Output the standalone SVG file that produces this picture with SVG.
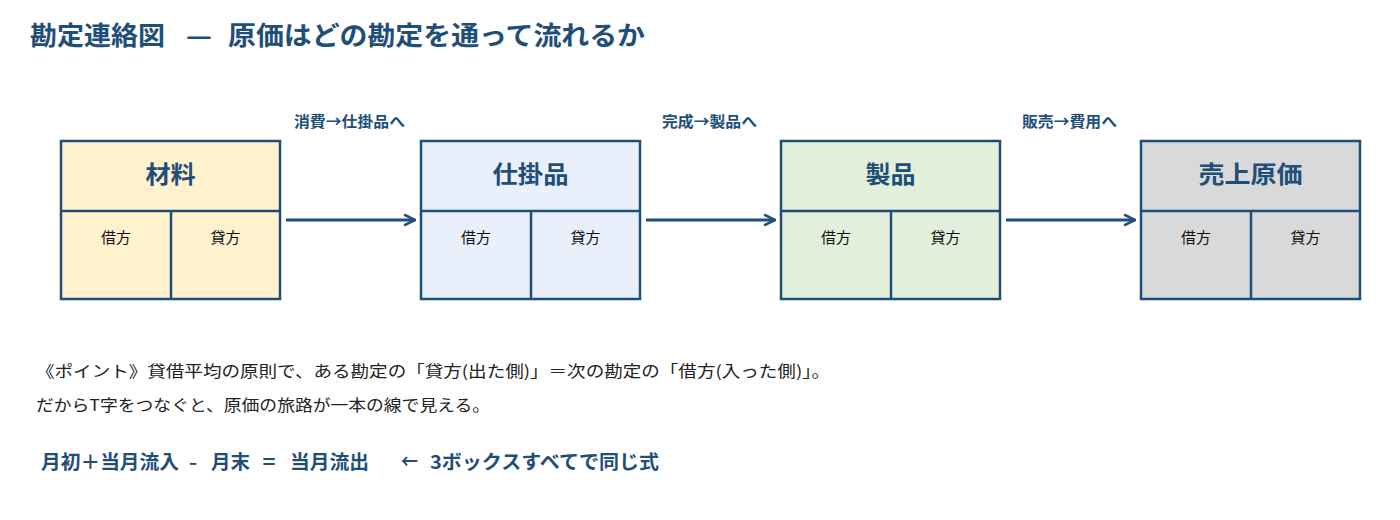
<svg xmlns="http://www.w3.org/2000/svg" width="1400" height="520" viewBox="0 0 1400 520">
<style>
text{font-family:"Noto Sans CJK JP","Noto Sans",sans-serif}
.title{font-size:26px;font-weight:bold;fill:#1f4e79}
.box{stroke:#1f4e79;stroke-width:2.5}
.ln{stroke:#1f4e79;stroke-width:2.5;fill:none}
.hd{font-size:24px;font-weight:bold;fill:#1f4e79;text-anchor:middle}
.sub{font-size:15px;fill:#111;text-anchor:middle}
.lbl{font-size:15px;font-weight:bold;fill:#1f4e79;text-anchor:middle}
.note{font-size:16px;fill:#222}
.f{font-size:19px;font-weight:bold;fill:#1f4e79}
.arr{stroke:#1f4e79;stroke-width:3;fill:none}
</style>
<defs>
<marker id="ah" viewBox="0 0 10 10" refX="9" refY="5" markerWidth="4.5" markerHeight="4.5" orient="auto" markerUnits="strokeWidth">
<path d="M1,1 L9,5 L1,9" fill="none" stroke="#1f4e79" stroke-width="2"/>
</marker>
</defs>
<rect width="1400" height="520" fill="#ffffff"/>
<g id="title">
<text class="title" x="30" y="45" textLength="135" lengthAdjust="spacingAndGlyphs">勘定連絡図</text>
<text class="title" x="186" y="45" textLength="26" lengthAdjust="spacingAndGlyphs" font-weight="normal">—</text>
<text class="title" x="228" y="45" textLength="417" lengthAdjust="spacingAndGlyphs">原価はどの勘定を通って流れるか</text>
</g>

<g id="node-zairyo">
<rect class="box" x="61" y="141" width="219" height="158" fill="#fff2cc"/>
<line class="ln" x1="61" y1="211" x2="280" y2="211"/>
<line class="ln" x1="171" y1="211" x2="171" y2="299"/>
<text class="hd" x="170.5" y="183" textLength="50" lengthAdjust="spacingAndGlyphs">材料</text>
<text class="sub" x="116" y="243" textLength="30" lengthAdjust="spacingAndGlyphs">借方</text>
<text class="sub" x="225.5" y="243" textLength="30" lengthAdjust="spacingAndGlyphs">貸方</text>
</g>
<g id="node-shikakehin">
<rect class="box" x="421" y="141" width="219" height="158" fill="#e9f0fb"/>
<line class="ln" x1="421" y1="211" x2="640" y2="211"/>
<line class="ln" x1="531" y1="211" x2="531" y2="299"/>
<text class="hd" x="530.5" y="183" textLength="76" lengthAdjust="spacingAndGlyphs">仕掛品</text>
<text class="sub" x="476" y="243" textLength="30" lengthAdjust="spacingAndGlyphs">借方</text>
<text class="sub" x="585.5" y="243" textLength="30" lengthAdjust="spacingAndGlyphs">貸方</text>
</g>
<g id="node-seihin">
<rect class="box" x="781" y="141" width="219" height="158" fill="#e2efda"/>
<line class="ln" x1="781" y1="211" x2="1000" y2="211"/>
<line class="ln" x1="891" y1="211" x2="891" y2="299"/>
<text class="hd" x="890.5" y="183" textLength="50" lengthAdjust="spacingAndGlyphs">製品</text>
<text class="sub" x="836" y="243" textLength="30" lengthAdjust="spacingAndGlyphs">借方</text>
<text class="sub" x="945.5" y="243" textLength="30" lengthAdjust="spacingAndGlyphs">貸方</text>
</g>
<g id="node-uriagegenka">
<rect class="box" x="1141" y="141" width="219" height="158" fill="#d9d9d9"/>
<line class="ln" x1="1141" y1="211" x2="1360" y2="211"/>
<line class="ln" x1="1251" y1="211" x2="1251" y2="299"/>
<text class="hd" x="1250.5" y="183" textLength="104" lengthAdjust="spacingAndGlyphs">売上原価</text>
<text class="sub" x="1196" y="243" textLength="30" lengthAdjust="spacingAndGlyphs">借方</text>
<text class="sub" x="1305.5" y="243" textLength="30" lengthAdjust="spacingAndGlyphs">貸方</text>
</g>

<g id="connectors">
<line class="arr" x1="286" y1="220" x2="415" y2="220" marker-end="url(#ah)"/>
<line class="arr" x1="646" y1="220" x2="775" y2="220" marker-end="url(#ah)"/>
<line class="arr" x1="1006" y1="220" x2="1135" y2="220" marker-end="url(#ah)"/>
<text class="lbl" x="349.5" y="127" textLength="111" lengthAdjust="spacingAndGlyphs">消費→仕掛品へ</text>
<text class="lbl" x="709.5" y="127" textLength="95" lengthAdjust="spacingAndGlyphs">完成→製品へ</text>
<text class="lbl" x="1069.5" y="127" textLength="95" lengthAdjust="spacingAndGlyphs">販売→費用へ</text>
</g>

<g id="notes">
<text class="note" x="36" y="377" textLength="794" lengthAdjust="spacingAndGlyphs">《ポイント》貸借平均の原則で、ある勘定の「貸方(出た側)」＝次の勘定の「借方(入った側)」。</text>
<text class="note" x="36" y="411" textLength="454" lengthAdjust="spacingAndGlyphs">だからT字をつなぐと、原価の旅路が一本の線で見える。</text>
</g>
<g id="formula">
<text class="f" x="41" y="469" textLength="138" lengthAdjust="spacingAndGlyphs">月初＋当月流入</text>
<text class="f" x="189" y="469" textLength="8" lengthAdjust="spacingAndGlyphs">–</text>
<text class="f" x="211" y="469" textLength="39" lengthAdjust="spacingAndGlyphs">月末</text>
<text class="f" x="261" y="469" textLength="16" lengthAdjust="spacingAndGlyphs">＝</text>
<text class="f" x="290" y="469" textLength="79" lengthAdjust="spacingAndGlyphs">当月流出</text>
<text class="f" x="401" y="469" textLength="17" lengthAdjust="spacingAndGlyphs" font-weight="normal">←</text>
<text class="f" x="430" y="469" textLength="229" lengthAdjust="spacingAndGlyphs">3ボックスすべてで同じ式</text>
</g>
</svg>
